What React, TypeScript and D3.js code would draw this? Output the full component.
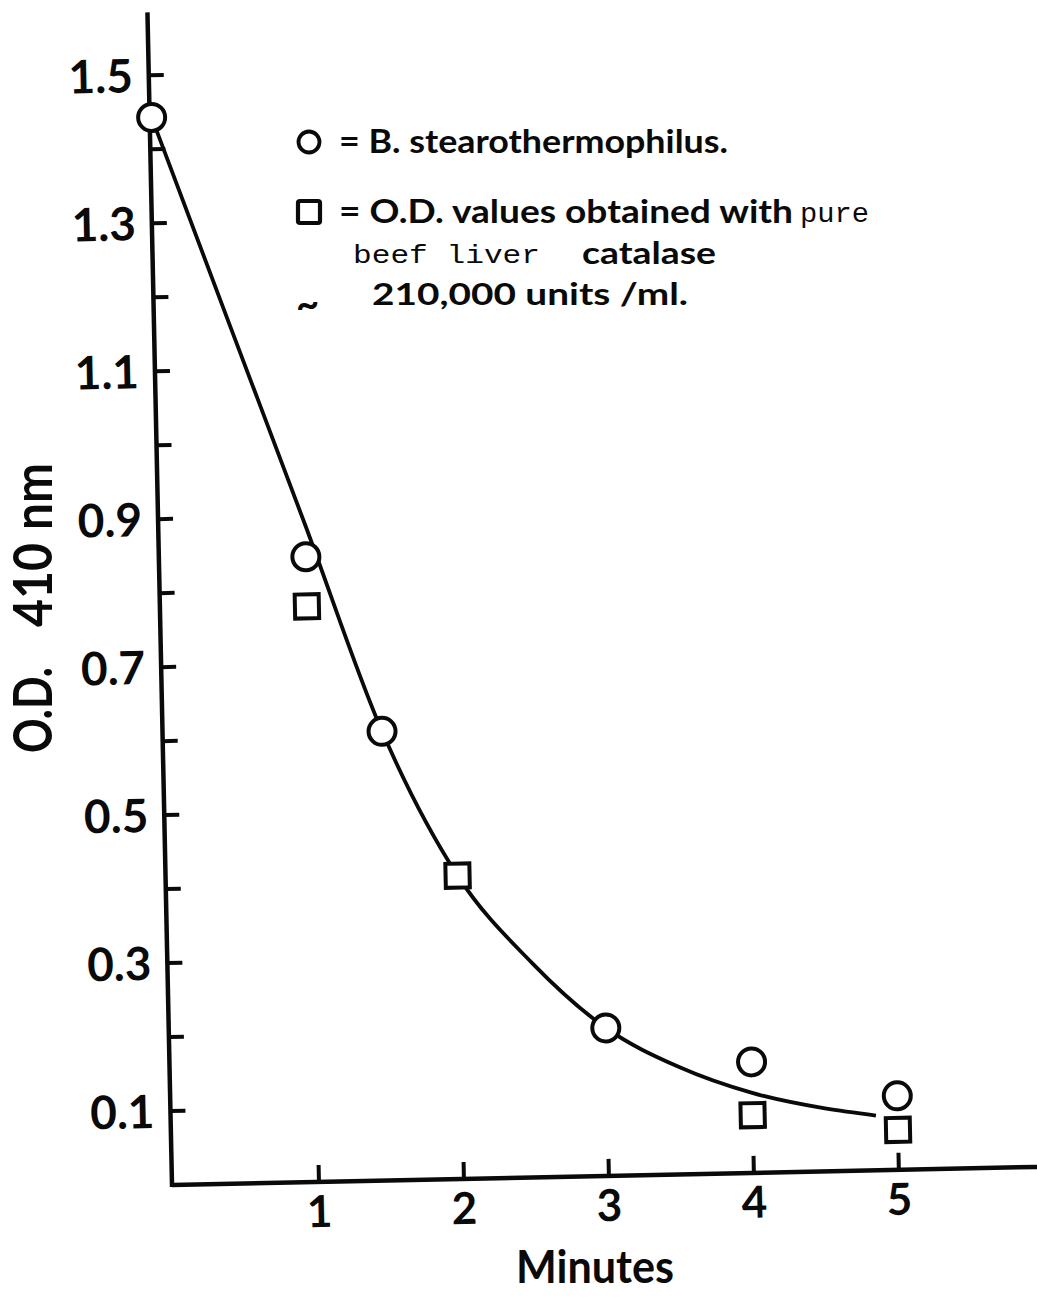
import React from "react";
import * as d3 from "d3";

// ---- data ----
const circleX = [0, 1, 1.5, 3, 4, 5];
const circleY = [1.443, 0.845, 0.607, 0.2, 0.15, 0.1];
const squareX = [1, 2, 4, 5];
const squareY = [0.778, 0.41, 0.078, 0.054];
const fitX = [0, 0.5, 1, 1.5, 2, 2.5, 3, 3.5, 4, 4.5, 4.85];
const fitY = [1.443, 1.165, 0.888, 0.607, 0.41, 0.29, 0.2, 0.145, 0.108, 0.085, 0.074];
const yTickValues = [0.1, 0.2, 0.3, 0.4, 0.5, 0.6, 0.7, 0.8, 0.9, 1.0, 1.1, 1.2, 1.3, 1.4, 1.5];
const yTickLabels = ["0.1", "0.3", "0.5", "0.7", "0.9", "1.1", "1.3", "1.5"];
const xTickValues = [1, 2, 3, 4, 5];
const xTickLabels = ["1", "2", "3", "4", "5"];

const SANS = "Lato, 'DejaVu Sans', sans-serif";
const MONO = "'Liberation Mono', 'DejaVu Sans Mono', monospace";
const INK = "#0a0a0a";

export default function App() {
  const W = 1037;
  const H = 1304;
  const ox = 174;
  const oy = 1185;
  const x = d3.scaleLinear().domain([0, 6]).range([ox, ox + 6 * 145]);
  const y = d3.scaleLinear().domain([0, 1.6]).range([oy, oy - 1.6 * 740]);

  const fitPts: [number, number][] = fitX.map((v, i) => [v, fitY[i]]);
  const line = d3
    .line<[number, number]>()
    .x((d) => x(d[0]))
    .y((d) => y(d[1]))
    .curve(d3.curveMonotoneX);

  const r = 13.5;
  const sq = 24;

  const bold = { fontFamily: SANS, fontWeight: 700, fill: INK } as const;

  return (
    <svg
      width={W}
      height={H}
      viewBox={`0 0 ${W} ${H}`}
      style={{ position: "absolute", left: 0, top: 0, background: "#fff" }}
    >
      <rect x={0} y={0} width={W} height={H} fill="#fff" />
      <g transform={`rotate(-1.2 ${ox} ${oy})`}>
        {/* axes */}
        <line x1={ox - 2} y1={oy} x2={x(6.05)} y2={oy} stroke={INK} strokeWidth={4.5} />
        <line x1={ox - 2} y1={oy + 2} x2={ox - 2} y2={y(1.585)} stroke={INK} strokeWidth={4.5} />
        {yTickValues.map((v) => (
          <line key={"yt" + v} x1={ox - 2} x2={ox + 13} y1={y(v)} y2={y(v)} stroke={INK} strokeWidth={4} />
        ))}
        {xTickValues.map((v) => (
          <line key={"xt" + v} x1={x(v)} x2={x(v)} y1={oy} y2={oy - 17} stroke={INK} strokeWidth={4} />
        ))}
        {yTickLabels.map((t) => (
          <text key={"yl" + t} x={ox - 18} y={y(+t)} dy="0.36em" textAnchor="end" fontSize={46} {...bold}>
            {t}
          </text>
        ))}
        {xTickLabels.map((t) => (
          <text key={"xl" + t} x={x(+t)} y={oy + 45} textAnchor="middle" fontSize={44} {...bold}>
            {t}
          </text>
        ))}
        {/* fitted curve */}
        <path d={line(fitPts) || ""} fill="none" stroke={INK} strokeWidth={3.8} />
        {/* squares */}
        {squareX.map((v, i) => (
          <rect
            key={"s" + i}
            x={x(v) - sq / 2}
            y={y(squareY[i]) - sq / 2}
            width={sq}
            height={sq}
            fill="#fff"
            stroke={INK}
            strokeWidth={4}
          />
        ))}
        {/* circles */}
        {circleX.map((v, i) => (
          <circle key={"c" + i} cx={x(v)} cy={y(circleY[i])} r={r} fill="#fff" stroke={INK} strokeWidth={4} />
        ))}
      </g>

      {/* y axis title */}
      <g transform="translate(52,753) rotate(-90)">
        <text x={0} y={0} fontSize={54} textLength={86} lengthAdjust="spacingAndGlyphs" {...bold}>
          O.D.
        </text>
        <text x={126} y={0} fontSize={54} textLength={84} lengthAdjust="spacingAndGlyphs" {...bold}>
          410
        </text>
        <text x={223} y={0} fontSize={54} textLength={67} lengthAdjust="spacingAndGlyphs" {...bold}>
          nm
        </text>
      </g>
      {/* x axis title */}
      <text x={595} y={1283} textAnchor="middle" fontSize={46} textLength={158} lengthAdjust="spacingAndGlyphs" {...bold}>
        Minutes
      </text>

      {/* legend */}
      <circle cx={309} cy={142} r={10.5} fill="#fff" stroke={INK} strokeWidth={3.8} />
      <text x={339} y={153} fontSize={32} textLength={389} lengthAdjust="spacingAndGlyphs" {...bold}>
        = B. stearothermophilus.
      </text>
      <rect x={298} y={201} width={22} height={22} fill="#fff" stroke={INK} strokeWidth={4.2} rx={2} />
      <text x={339} y={223} fontSize={32} textLength={454} lengthAdjust="spacingAndGlyphs" {...bold}>
        = O.D. values obtained with
      </text>
      <text x={800} y={222} fontFamily={MONO} fontSize={28} textLength={69} lengthAdjust="spacingAndGlyphs" fill={INK}>
        pure
      </text>
      <text x={353} y={263} fontFamily={MONO} fontSize={26} textLength={187} lengthAdjust="spacingAndGlyphs" fill={INK}>
        beef liver
      </text>
      <text x={582} y={264} fontSize={31} textLength={134} lengthAdjust="spacingAndGlyphs" {...bold}>
        catalase
      </text>
      <text x={296} y={318} fontSize={40} {...bold}>
        ~
      </text>
      <text x={372} y={305} fontSize={31} textLength={316} lengthAdjust="spacingAndGlyphs" {...bold}>
        210,000 units /ml.
      </text>
    </svg>
  );
}
